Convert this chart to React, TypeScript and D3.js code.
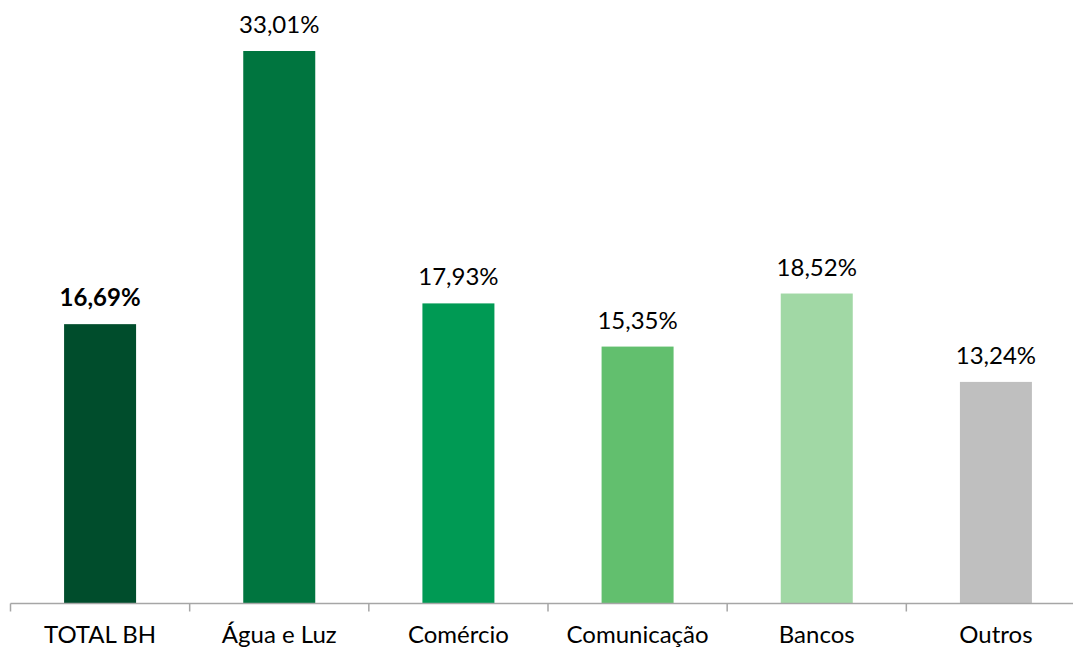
import React from "react";
import * as d3 from "d3";

const categories = ["TOTAL BH", "Água e Luz", "Comércio", "Comunicação", "Bancos", "Outros"];
const values = [16.69, 33.01, 17.93, 15.35, 18.52, 13.24];
const colors = ["#004D2C", "#00753F", "#009A54", "#62BF6E", "#A1D8A5", "#BFBFBF"];

const W = 1073;
const H = 649;

export default function App() {
  const baseY = 603.5;
  const x = d3.scaleBand<string>().domain(categories).range([10.5, 1085.5]).paddingInner(0).paddingOuter(0);
  const y = d3.scaleLinear().domain([0, 33.01]).range([baseY, 51]);
  const bw = 72;
  const fmt = (v: number) => v.toFixed(2).replace(".", ",") + "%";
  const ticks = d3.range(categories.length + 1).map((i) => 10.5 + i * x.bandwidth());
  return (
    <svg width={W} height={H} style={{ position: "absolute", left: 0, top: 0, background: "#fff" }}
      fontFamily="Lato, 'Open Sans', sans-serif">
      {categories.map((c, i) => {
        const cx = (x(c) as number) + x.bandwidth() / 2;
        return (
          <g key={c}>
            <rect x={cx - bw / 2} y={y(values[i])} width={bw} height={baseY - y(values[i])} fill={colors[i]} />
            <text x={cx} y={y(values[i]) - 18} textAnchor="middle" fontSize={24}
              fontWeight={i === 0 ? "bold" : "normal"} fill="#000">{fmt(values[i])}</text>
            <text x={cx} y={643} textAnchor="middle" fontSize={24} fill="#000">{c}</text>
          </g>
        );
      })}
      <line x1={10.5} x2={1085.5} y1={baseY} y2={baseY} stroke="#A6A6A6" strokeWidth={1.5} />
      {ticks.map((t, i) => (
        <line key={i} x1={t} x2={t} y1={baseY} y2={baseY + 8} stroke="#A6A6A6" strokeWidth={1.5} />
      ))}
    </svg>
  );
}
